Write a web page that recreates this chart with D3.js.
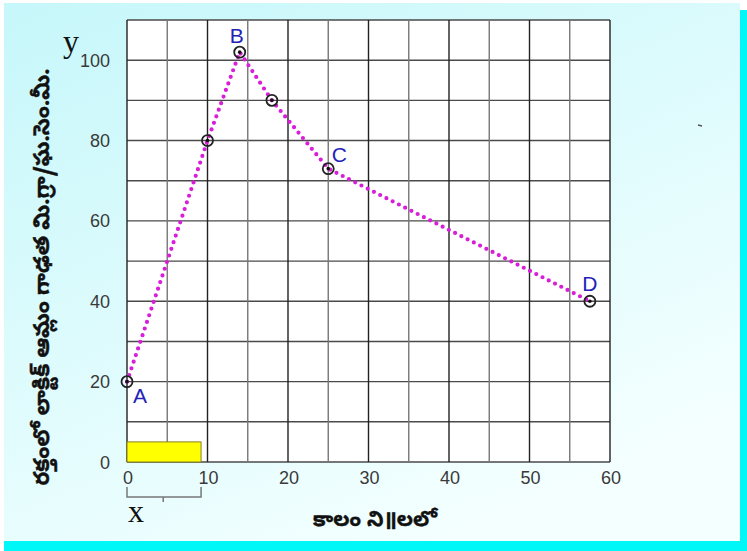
<!DOCTYPE html>
<html>
<head>
<meta charset="utf-8">
<script src="https://cdn.jsdelivr.net/npm/d3@7"></script>
<style>
  body { margin: 0; background: #fff; }
  svg { display: block; }
</style>
</head>
<body>
<script>
// time (minutes) vs lactic acid in blood (mg / cc)
var timeMin    = [0, 10, 14, 18, 25, 57.5],
    lactic     = [20, 80, 102, 90, 73, 40],
    pointNames = ["A", "", "B", "", "C", "D"];

var xTicks = [0, 10, 20, 30, 40, 50, 60],
    yTicks = [0, 20, 40, 60, 80, 100];

var yTitle = "రక్తంలో లాక్టిక్ ఆమ్లం గాఢత మి.గ్రా/ఘ.సెం.మీ.",
    xTitle = "కాలం ని॥లలో";

var W = 747, H = 551;

var x = d3.scaleLinear().domain([0, 60]).range([127, 610]),
    y = d3.scaleLinear().domain([0, 110]).range([462, 20]);

var svg = d3.select("body").append("svg")
    .attr("width", W)
    .attr("height", H);

// slide background + cyan edge
var defs = svg.append("defs");
var grad = defs.append("linearGradient")
    .attr("id", "bg")
    .attr("x1", "0").attr("y1", "0").attr("x2", "0.6").attr("y2", "1");
grad.append("stop").attr("offset", "0").attr("stop-color", "#c6f7fa");
grad.append("stop").attr("offset", "1").attr("stop-color", "#f4ffff");

svg.append("rect").attr("x", 4).attr("y", 10).attr("width", W - 4).attr("height", H - 10)
    .attr("fill", "#00f7f7");
svg.append("rect").attr("x", 4).attr("y", 3).attr("width", 736).attr("height", 538)
    .attr("fill", "url(#bg)");

// tiny stray mark on the slide
svg.append("line").attr("x1", 698).attr("y1", 125).attr("x2", 702).attr("y2", 126)
    .attr("stroke", "#555").attr("stroke-width", 1.5);

// plot area
svg.append("rect")
    .attr("x", x(0)).attr("y", y(110))
    .attr("width", x(60) - x(0)).attr("height", y(0) - y(110))
    .attr("fill", "#fff");

var grid = svg.append("g").attr("class", "grid");

grid.selectAll("line.h")
    .data(d3.range(0, 111, 10))
  .enter().append("line")
    .attr("class", "h")
    .attr("x1", x(0)).attr("x2", x(60))
    .attr("y1", function(d) { return y(d); })
    .attr("y2", function(d) { return y(d); })
    .attr("stroke", "#4a4a4a")
    .attr("stroke-width", 1.4);

grid.selectAll("line.v")
    .data(d3.range(0, 61, 5))
  .enter().append("line")
    .attr("class", "v")
    .attr("y1", y(0)).attr("y2", y(110))
    .attr("x1", function(d) { return x(d); })
    .attr("x2", function(d) { return x(d); })
    .attr("stroke", function(d) { return d % 10 === 0 ? "#222" : "#777"; })
    .attr("stroke-width", 1.4);

// yellow block at the bottom
svg.append("rect")
    .attr("x", x(0)).attr("y", y(5))
    .attr("width", x(9.2) - x(0)).attr("height", y(0) - y(5))
    .attr("fill", "#ffff00")
    .attr("stroke", "#8a7f20")
    .attr("stroke-width", 1);

// tick labels
svg.append("g").selectAll("text")
    .data(yTicks)
  .enter().append("text")
    .attr("x", 110)
    .attr("y", function(d) { return y(d) + 6.5; })
    .attr("text-anchor", "end")
    .attr("font-family", "Arial, 'Liberation Sans', sans-serif")
    .attr("font-size", 18)
    .attr("fill", "#3a3a3a")
    .text(function(d) { return d; });

svg.append("g").selectAll("text")
    .data(xTicks)
  .enter().append("text")
    .attr("x", function(d) { return x(d) + 1; })
    .attr("y", 484)
    .attr("text-anchor", "middle")
    .attr("font-family", "Arial, 'Liberation Sans', sans-serif")
    .attr("font-size", 18)
    .attr("fill", "#3a3a3a")
    .text(function(d) { return d; });

// dotted magenta curve
var line = d3.line()
    .x(function(d, i) { return x(timeMin[i]); })
    .y(function(d, i) { return y(lactic[i]); });

svg.append("path")
    .attr("d", line(timeMin))
    .attr("fill", "none")
    .attr("stroke", "#d81ed8")
    .attr("stroke-width", 4.2)
    .attr("stroke-linecap", "round")
    .attr("stroke-dasharray", "0 7");

// circled points
var pts = svg.append("g").selectAll("g")
    .data(timeMin)
  .enter().append("g")
    .attr("transform", function(d, i) { return "translate(" + x(d) + "," + y(lactic[i]) + ")"; });
pts.append("circle").attr("r", 5.5).attr("fill", "none").attr("stroke", "#222").attr("stroke-width", 1.8);
pts.append("circle").attr("r", 1.8).attr("fill", "#111");

// point letters
var nameOffset = { A: [13, 21], B: [-3, -9], C: [11, -7], D: [0, -10] };
svg.append("g").selectAll("text")
    .data(pointNames)
  .enter().filter(function(d) { return d !== ""; }).append("text")
    .attr("x", function(d) { return x(timeMin[pointNames.indexOf(d)]) + nameOffset[d][0]; })
    .attr("y", function(d) { return y(lactic[pointNames.indexOf(d)]) + nameOffset[d][1]; })
    .attr("text-anchor", "middle")
    .attr("font-family", "Arial, 'Liberation Sans', sans-serif")
    .attr("font-size", 21)
    .attr("fill", "#2323b8")
    .text(function(d) { return d; });

// x / y letters
svg.append("text").attr("x", 63).attr("y", 52)
    .attr("font-family", "'Liberation Serif', 'Times New Roman', serif")
    .attr("font-size", 32).attr("fill", "#111").text("y");
svg.append("text").attr("x", 128).attr("y", 522)
    .attr("font-family", "'Liberation Serif', 'Times New Roman', serif")
    .attr("font-size", 32).attr("fill", "#111").text("x");

// bracket under the yellow block
svg.append("path")
    .attr("d", "M" + x(0) + ",487 V497 H" + x(9.2) + " V487 M" + x(4.5) + ",497 V502")
    .attr("fill", "none")
    .attr("stroke", "#777")
    .attr("stroke-width", 1.5);

// axis titles
svg.append("text")
    .attr("x", 375).attr("y", 526)
    .attr("text-anchor", "middle")
    .attr("font-family", "'Noto Sans Telugu', 'Noto Sans', sans-serif")
    .attr("font-weight", "bold")
    .attr("font-size", 21)
    .attr("fill", "#111")
    .attr("stroke", "#111")
    .attr("stroke-width", 0.4)
    .text(xTitle);

svg.append("text")
    .attr("transform", "translate(49,277) rotate(-90)")
    .attr("text-anchor", "middle")
    .attr("font-family", "'Noto Sans Telugu', 'Noto Sans', sans-serif")
    .attr("font-weight", "bold")
    .attr("font-size", 22)
    .attr("fill", "#111")
    .attr("stroke", "#111")
    .attr("stroke-width", 0.4)
    .text(yTitle);
</script>
</body>
</html>
